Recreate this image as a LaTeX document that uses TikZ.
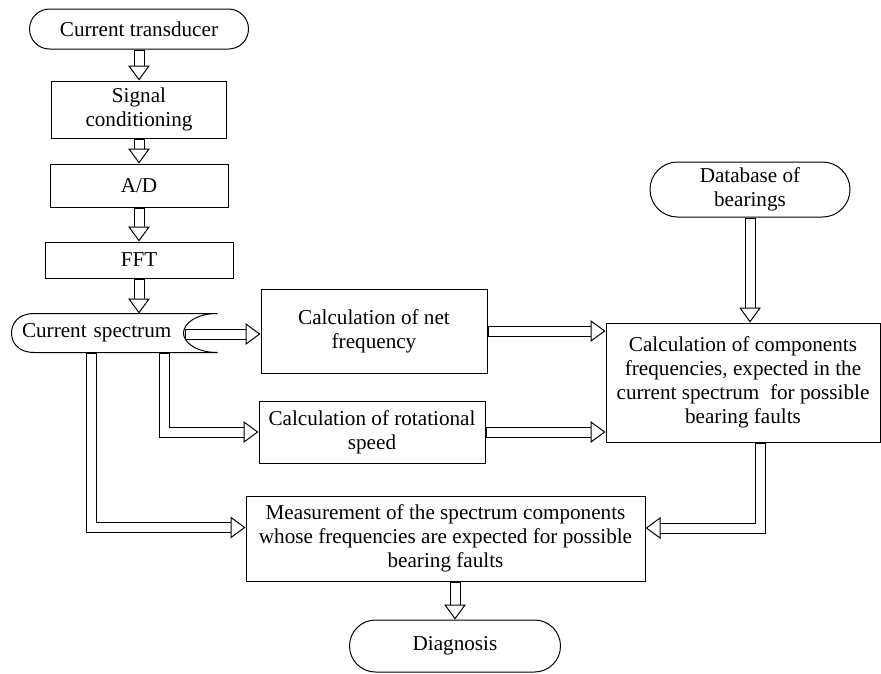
\documentclass[tikz,border=0pt]{standalone}
\usepackage{fontspec}
\setmainfont{Liberation Serif}
\usepackage{tikz}
\usetikzlibrary{arrows.meta,calc}
\tikzset{
  startstop/.style={
    rectangle, 
    rounded corners=12pt,
    minimum width=131.4pt, 
    minimum height=24pt,
    inner sep=1pt,
    align=center, 
    draw=black
    },
  process/.style={
    rectangle, 
    minimum width=3cm, 
    minimum height=1cm, 
    inner xsep=1pt,
    inner ysep=1pt,
    align=center, 
    draw=black
    },
  store/.style={
    rectangle,
    text width=111pt,
    inner xsep=6pt,
    minimum height=22.8pt,
    align=left
    },
  arrow/.style={
    preaction={draw=black, line width=6.6pt, shorten >=8.6pt, shorten <=0pt},
    draw=white, line width=5.4pt, shorten >=8.6pt, shorten <=0.6pt,
    postaction={draw=white, line width=0.6pt, shorten >=0pt, shorten <=1pt,
      -{Triangle[color=black, fill=white, length=9pt, width=13pt]}}
    },
}

\begin{document}
\begin{tikzpicture}[
            x = 0.6pt, y = -0.6pt, % one unit per pixel
            font = \fontsize{12.7}{14.4}\selectfont,
            line width = 0.6pt % line style
        ]
    \useasboundingbox (0,0) rectangle (881,673);

    % left column
    \node[startstop] (trans) at (139,29) {Current transducer};
    \node[process, minimum width=105pt, minimum height=34.2pt] (sig) at (139,109.5) {Signal\\conditioning};
    \node[process, minimum width=106.8pt, minimum height=25.8pt] (ad) at (139,185.5) {A/D};
    \node[process, minimum width=112.8pt, minimum height=21.6pt] (fft) at (139,260) {FFT};
    \node[store] (spec) at (114.5,333) {Current spectrum};
    \draw (spec.north east) -- ($(spec.north west)+(23,0)$)
        .. controls ($(spec.north west)+(6,0)$) and ($(spec.west)+(0,-9)$) .. (spec.west)
        .. controls ($(spec.west)+(0,9)$) and ($(spec.south west)+(6,0)$) .. ($(spec.south west)+(23,0)$)
        -- (spec.south east)
        .. controls ($(spec.south east)+(-22,0)$) and ($(spec.east)+(-34,9)$) .. ($(spec.east)+(-34,0)$)
        .. controls ($(spec.east)+(-34,-9)$) and ($(spec.north east)+(-22,0)$) .. cycle;

    % calculations
    \node[process, minimum width=135.6pt, minimum height=50.4pt] (net) at (374,331) {Calculation of net\\frequency};
    \node[process, minimum width=135.6pt, minimum height=37.2pt] (rot) at (372,432) {Calculation of rotational\\speed};
    \node[startstop, minimum width=120pt, minimum height=33pt, rounded corners=16.5pt] (db) at (750,189.5) {Database of\\bearings};
    \node[process, minimum width=164.4pt, minimum height=71.4pt] (comp) at (743,382.5) {Calculation of components\\frequencies, expected in the\\current spectrum\ \ for possible\\bearing faults};
    \node[process, minimum width=239.4pt, minimum height=51pt] (meas) at (445.5,538.5) {Measurement of the spectrum components\\whose frequencies are expected for possible\\bearing faults};
    \node[startstop, minimum width=126.6pt, minimum height=31.2pt, rounded corners=15.6pt] (diag) at (455,646) {Diagnosis};

    % connectors
    \draw[arrow] (trans) -- (sig);
    \draw[arrow] (sig) -- (ad);
    \draw[arrow] (ad) -- (fft);
    \draw[arrow] (fft.south) -- (fft.south |- spec.north);
    \coordinate (notch) at ($(spec.east)+(-33,1)$);
    \draw[arrow] (notch) -- (notch -| net.west);
    \draw[arrow] ($(spec.south west)+(153,0)$) |- (rot.west);
    \draw[arrow] ($(spec.south west)+(80,0)$) |- ($(meas.west)+(0,-11)$);
    \draw[arrow] (net) -- (net -| comp.west);
    \draw[arrow] (rot) -- (rot -| comp.west);
    \draw[arrow] (db) -- (db |- comp.north);
    \draw[arrow] ($(comp.south)+(17,0)$) |- ($(meas.east)+(0,-10.5)$);
    \draw[arrow] (meas.south -| diag.north) -- (diag.north);
\end{tikzpicture}
\end{document}
